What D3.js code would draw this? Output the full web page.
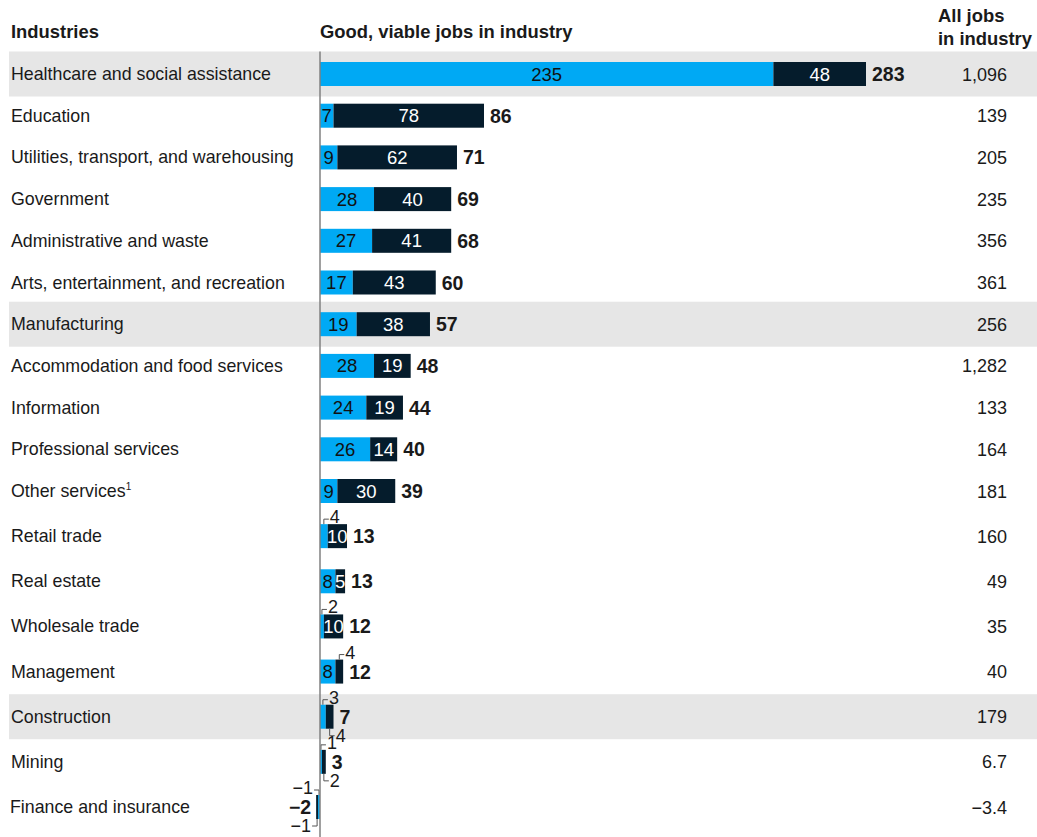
<!DOCTYPE html>
<html>
<head>
<meta charset="utf-8">
<script src="https://cdn.jsdelivr.net/npm/d3@7"></script>
<style>
  html, body { margin: 0; padding: 0; background: #fff; }
  svg text { font-family: "Liberation Sans", Arial, sans-serif; }
</style>
</head>
<body>
<svg id="chart" width="1037" height="837"></svg>
<script>
// ---- Data ----
const categories = [
  "Healthcare and social assistance",
  "Education",
  "Utilities, transport, and warehousing",
  "Government",
  "Administrative and waste",
  "Arts, entertainment, and recreation",
  "Manufacturing",
  "Accommodation and food services",
  "Information",
  "Professional services",
  "Other services",
  "Retail trade",
  "Real estate",
  "Wholesale trade",
  "Management",
  "Construction",
  "Mining",
  "Finance and insurance"
];
const footnotes = ["", "", "", "", "", "", "", "", "", "", "1", "", "", "", "", "", "", ""];
const lightValues = [235, 7, 9, 28, 27, 17, 19, 28, 24, 26, 9, 4, 8, 2, 8, 3, 1, -1];
const darkValues  = [48, 78, 62, 40, 41, 43, 38, 19, 19, 14, 30, 10, 5, 10, 4, 4, 2, -1];
const totals      = [283, 86, 71, 69, 68, 60, 57, 48, 44, 40, 39, 13, 13, 12, 12, 7, 3, -2];
const allJobs     = [1096, 139, 205, 235, 356, 361, 256, 1282, 133, 164, 181, 160, 49, 35, 40, 179, 6.7, -3.4];
const highlighted = ["Healthcare and social assistance", "Manufacturing", "Construction"];
const headers = { industries: "Industries", good: "Good, viable jobs in industry", all: ["All jobs", "in industry"] };

// ---- Styles ----
const LIGHT = "#00A9F4", DARK = "#051C2C", BAND = "#E6E6E6", TEXT = "#1a1a1a";
const FS = 17.8;

const svg = d3.select("#chart");
const rows = categories.map((c, i) => ({
  i, name: c, note: footnotes[i], light: lightValues[i], dark: darkValues[i],
  total: totals[i], all: allJobs[i]
}));

const x = d3.scaleLinear().domain([0, 283]).range([320, 866]);
const y = d3.scaleLinear().domain([0, 10, 17]).range([74, 491, 807]);
const barH = 24, bandH = 45;
const fmt = d3.format(",");

// bands
svg.append("g").selectAll("rect")
  .data(rows.filter(r => highlighted.includes(r.name)))
  .join("rect")
  .attr("x", 9).attr("width", 1037 - 9)
  .attr("y", d => y(d.i) - bandH / 2).attr("height", bandH)
  .attr("fill", BAND);

// headers
const hdr = svg.append("g").attr("font-weight", "bold").attr("font-size", 18.4).attr("fill", TEXT);
hdr.append("text").attr("x", 11).attr("y", 38).text(headers.industries);
hdr.append("text").attr("x", x(0)).attr("y", 38).text(headers.good);
hdr.selectAll("text.all").data(headers.all).join("text").attr("class", "all")
  .attr("x", 938).attr("y", (d, k) => 22 + k * 23).text(d => d);

// category labels
const lab = svg.append("g").attr("font-size", FS).attr("fill", TEXT)
  .selectAll("text").data(rows).join("text")
  .attr("x", d => d.i === 17 ? 10 : 11).attr("y", d => y(d.i) + 6);
lab.append("tspan").text(d => d.name);
lab.filter(d => d.note).append("tspan").attr("font-size", 10).attr("dy", -7).text(d => d.note);

// segments
const segs = [];
rows.forEach(r => {
  segs.push({ r, key: "light", v: r.light, a: 0, b: r.light });
  segs.push({ r, key: "dark", v: r.dark, a: r.light, b: r.light + r.dark });
});

svg.append("g").selectAll("rect").data(segs).join("rect")
  .attr("x", d => x(Math.min(d.a, d.b)))
  .attr("width", d => Math.abs(x(d.b) - x(d.a)))
  .attr("y", d => y(d.r.i) - barH / 2).attr("height", barH)
  .attr("fill", d => d.key === "light" ? LIGHT : DARK);

// inside labels
svg.append("g").attr("font-size", 18.5).attr("text-anchor", "middle")
  .selectAll("text").data(segs.filter(d => Math.abs(d.v) >= 5)).join("text")
  .attr("x", d => (x(d.a) + x(d.b)) / 2).attr("y", d => y(d.r.i) + 6.5)
  .attr("fill", d => d.key === "light" ? "#111" : "#fff")
  .text(d => fmt(d.v));

// callouts for small segments
const calls = [];
rows.forEach(r => {
  const small = segs.filter(s => s.r === r && Math.abs(s.v) < 5);
  small.forEach((s, k) => calls.push({ s, pos: (small.length === 2 && k === 1) ? "below" : "above" }));
});
const cg = svg.append("g");
calls.forEach(c => {
  const s = c.s, i = s.r.i;
  const mx = (x(s.a) + x(s.b)) / 2;
  const dir = s.v < 0 ? -1 : 1;
  const top = y(i) - barH / 2, bot = y(i) + barH / 2;
  let cy, ty;
  if (c.pos === "above") { cy = top - 5; ty = top - 1; }
  else { cy = bot + 7; ty = bot + 13; }
  const edge = c.pos === "above" ? top : bot;
  cg.append("path")
    .attr("d", `M${mx},${edge}L${mx},${cy}L${mx + dir * 5},${cy}`)
    .attr("fill", "none").attr("stroke", "#555").attr("stroke-width", 1);
  cg.append("text").attr("font-size", 18).attr("fill", TEXT)
    .attr("x", mx + dir * 6).attr("y", ty)
    .attr("text-anchor", dir < 0 ? "end" : "start")
    .text(fmt(s.v));
});

// totals
svg.append("g").attr("font-size", 19.5).attr("font-weight", "bold").attr("fill", TEXT)
  .selectAll("text").data(rows).join("text")
  .attr("x", d => d.total < 0 ? x(d.light + d.dark) - 5 : x(d.light + d.dark) + 6)
  .attr("text-anchor", d => d.total < 0 ? "end" : "start")
  .attr("y", d => y(d.i) + 7)
  .text(d => fmt(d.total));

// all jobs column
svg.append("g").attr("font-size", 18).attr("fill", TEXT).attr("text-anchor", "end")
  .selectAll("text").data(rows).join("text")
  .attr("x", 1007).attr("y", d => y(d.i) + 6.5)
  .text(d => fmt(d.all));

// zero line
svg.append("line")
  .attr("x1", x(0)).attr("x2", x(0))
  .attr("y1", y(0) - bandH / 2).attr("y2", 837)
  .attr("stroke", "#808080").attr("stroke-width", 1.5);
</script>
</body>
</html>
